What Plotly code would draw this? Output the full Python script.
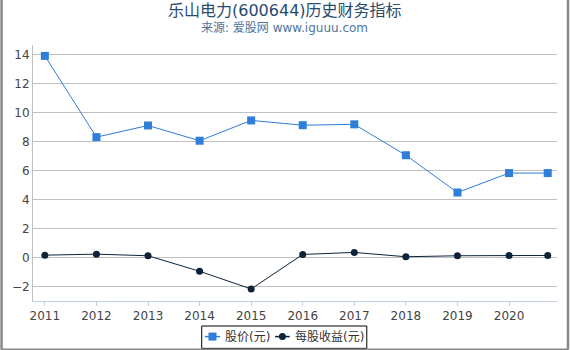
import plotly.graph_objects as go

years = [2011, 2012, 2013, 2014, 2015, 2016, 2017, 2018, 2019, 2020, 2020.75]
tick_vals = [2011, 2012, 2013, 2014, 2015, 2016, 2017, 2018, 2019, 2020]
tick_text = ["2011", "2012", "2013", "2014", "2015", "2016", "2017", "2018", "2019", "2020"]
price = [13.9, 8.3, 9.1, 8.05, 9.45, 9.12, 9.18, 7.05, 4.48, 5.82, 5.82]
eps = [0.16, 0.23, 0.12, -0.95, -2.17, 0.21, 0.35, 0.05, 0.12, 0.14, 0.14]
series_names = ["股价(元)", "每股收益(元)"]
series_colors = ["#2f7ed8", "#0d233a"]

font_family = "DejaVu Sans, Noto Sans CJK SC, sans-serif"

fig = go.Figure()
fig.add_trace(go.Scatter(
    x=years, y=price, name=series_names[0], mode="lines+markers",
    line=dict(color=series_colors[0], width=1),
    marker=dict(symbol="square", size=8, color=series_colors[0]),
))
fig.add_trace(go.Scatter(
    x=years, y=eps, name=series_names[1], mode="lines+markers",
    line=dict(color=series_colors[1], width=1),
    marker=dict(symbol="circle", size=7, color=series_colors[1]),
))

fig.update_layout(
    width=570, height=350,
    margin=dict(l=33, r=13, t=45, b=49, autoexpand=False),
    paper_bgcolor="white", plot_bgcolor="white",
    font=dict(family=font_family, size=12, color="#333333"),
    showlegend=False,
    xaxis=dict(
        range=[2010.77, 2020.93], tickvals=tick_vals, ticktext=tick_text,
        showgrid=False, zeroline=False, showline=True, linecolor="#c0d0e0",
        ticks="outside", ticklen=4, tickcolor="#c0d0e0",
        tickfont=dict(size=12, color="#444444"),
    ),
    yaxis=dict(
        range=[-3.0, 14.65], tickvals=[-2, 0, 2, 4, 6, 8, 10, 12, 14],
        showgrid=True, gridcolor="#c0c0c0", gridwidth=1, zeroline=False,
        showline=True, linecolor="#c0c0c0",
        tickfont=dict(size=12, color="#444444"),
    ),
    annotations=[
        dict(text="乐山电力(600644)历史财务指标", xref="paper", yref="paper",
             x=0.48, y=1.133, xanchor="center", yanchor="middle", showarrow=False,
             font=dict(size=16, color="#274b6d", family=font_family)),
        dict(text="来源: 爱股网 www.iguuu.com", xref="paper", yref="paper",
             x=0.48, y=1.066, xanchor="center", yanchor="middle", showarrow=False,
             font=dict(size=12, color="#4d759e", family=font_family)),
        # legend labels
        dict(text=series_names[0], xref="paper", yref="paper",
             x=0.362, y=-0.139, xanchor="left", yanchor="middle", showarrow=False,
             font=dict(size=12, color="#333333", family=font_family)),
        dict(text=series_names[1], xref="paper", yref="paper",
             x=0.496, y=-0.139, xanchor="left", yanchor="middle", showarrow=False,
             font=dict(size=12, color="#333333", family=font_family)),
    ],
)

# custom legend box and symbols
fig.add_shape(type="rect", xref="paper", yref="paper", x0=0.322, x1=0.637, y0=-0.185, y1=-0.0977,
              line=dict(color="#000000", width=1), fillcolor="white", layer="above")
fig.add_shape(type="line", xref="paper", yref="paper", x0=0.328, x1=0.357, y0=-0.139, y1=-0.139,
              line=dict(color=series_colors[0], width=1.5))
fig.add_shape(type="rect", xref="paper", yref="paper", x0=0.3425 - 0.0076, x1=0.3425 + 0.0076,
              y0=-0.139 - 0.0156, y1=-0.139 + 0.0156,
              line=dict(width=0), fillcolor=series_colors[0])
fig.add_shape(type="line", xref="paper", yref="paper", x0=0.462, x1=0.490, y0=-0.139, y1=-0.139,
              line=dict(color=series_colors[1], width=1.5))
fig.add_shape(type="circle", xref="paper", yref="paper", x0=0.476 - 0.0067, x1=0.476 + 0.0067,
              y0=-0.139 - 0.0137, y1=-0.139 + 0.0137,
              line=dict(width=0), fillcolor=series_colors[1])

# outer frame lines
for x0, y0, x1, y1 in [(-0.06, -0.19, -0.06, 1.2), (1.021, -0.19, 1.021, 1.2), (-0.06, -0.19, 1.021, -0.19)]:
    fig.add_shape(type="line", xref="paper", yref="paper", x0=x0, y0=y0, x1=x1, y1=y1,
                  line=dict(color="#888888", width=2.5))

fig.write_html("out.html")
